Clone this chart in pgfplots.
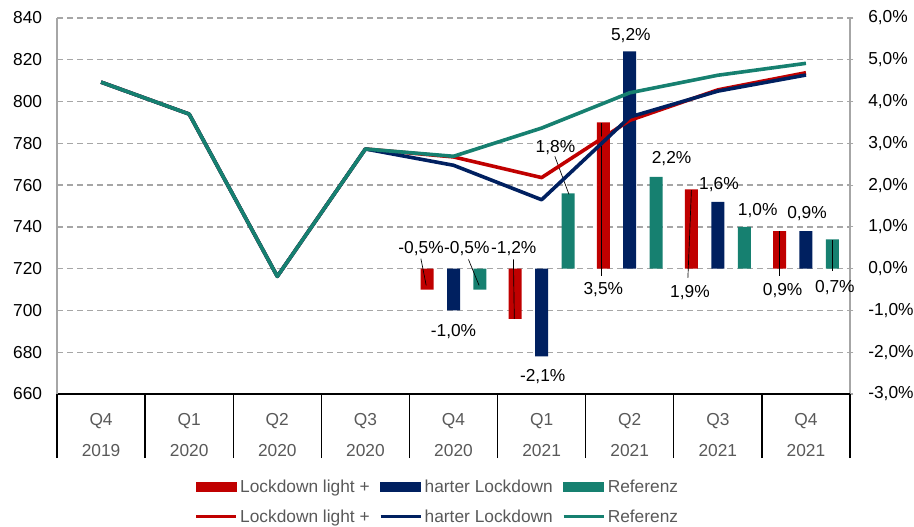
\documentclass[border=0pt]{standalone}
\usepackage{fontspec}
\setmainfont{Liberation Sans}
\usepackage{pgfplots}
\pgfplotsset{compat=1.18}
\definecolor{cred}{RGB}{192,0,0}
\definecolor{cblue}{RGB}{0,32,96}
\definecolor{cteal}{RGB}{22,128,112}
\definecolor{axgray}{RGB}{166,166,166}
\definecolor{txtgray}{RGB}{89,89,89}
\newcommand{\fs}{\fontsize{13}{15.6}\selectfont}
\pgfplotsset{
  barlbl/.style={
    point meta=y,
    nodes near coords={\pgfmathprintnumber[fixed,fixed zerofill,precision=1,use comma,assume math mode=true]{\pgfplotspointmeta}\%},
    visualization depends on={\thisrow{dx}\as\dx},
    visualization depends on={\thisrow{dy}\as\dy},
    every node near coord/.append style={anchor=center, font=\fs, text=black, inner sep=0pt, xshift=\dx pt, yshift=\dy pt},
  }
}
\begin{document}
\begin{tikzpicture}
% ---------------- bars (right axis) ----------------
\begin{axis}[
  width=594.75pt, height=282pt, scale only axis,
  xmin=-0.5, xmax=8.5, ymin=-3, ymax=6,
  axis x line=none, axis y line*=right,
  y axis line style={draw=axgray, line width=0.8pt, -},
  ytick={-3,-2,...,6},
  ymajorgrids, grid style={axgray, line width=1pt, dash pattern=on 4.5pt off 3pt},
  yticklabel={\pgfmathprintnumber[fixed,fixed zerofill,precision=1,use comma,assume math mode=true]{\tick}\%},
  yticklabel style={font=\fs, text=black, anchor=west, inner sep=0pt, xshift=11pt},
  ytick style={draw=axgray, line width=0.8pt},
  tick align=center, major tick length=5pt,
  clip=false,
  ybar, bar width=9.75pt,
]
\addplot[ybar, fill=cred, draw=none, bar shift=-19.8pt, barlbl] table {
x y dx dy
4 -0.5 -4.5 30.6
5 -1.2 -1.1 52.5
6 3.5 0 -125.3
7 1.9 -1.1 -77.3
8 0.9 2.3 -44.6
};
\addplot[ybar, fill=cblue, draw=none, bar shift=0pt, barlbl] table {
x y dx dy
4 -1.0 0 -16
5 -2.1 0.8 -15.3
6 5.2 0.8 12
7 1.6 0.8 12.8
8 0.9 0.8 13.1
};
\addplot[ybar, fill=cteal, draw=none, bar shift=19.8pt, barlbl] table {
x y dx dy
4 -0.5 -9.8 30.6
5 1.8 -9.4 34.5
6 2.2 11.6 13.5
7 1.0 10.1 12
8 0.7 1.9 -36
};
% leader lines
\draw[black, line width=0.5pt] (axis cs:3.63,0.24) -- (axis cs:3.69,-0.40);
\draw[black, line width=0.5pt] (axis cs:4.17,0.22) -- (axis cs:4.29,-0.40);
\draw[black, line width=0.5pt] (axis cs:4.68,0.22) -- (axis cs:4.69,-1.2);
\draw[black, line width=0.5pt] (axis cs:5.15,2.69) -- (axis cs:5.31,1.78);
\draw[black, line width=0.5pt] (axis cs:5.68,-0.17) -- (axis cs:5.68,3.48);
\draw[black, line width=0.5pt] (axis cs:6.66,-0.22) -- (axis cs:6.70,1.88);
\draw[black, line width=0.5pt] (axis cs:7.70,-0.17) -- (axis cs:7.70,0.90);
\draw[black, line width=0.5pt] (axis cs:8.30,-0.05) -- (axis cs:8.30,0.69);
\end{axis}
% ---------------- lines (left axis) ----------------
\begin{axis}[
  width=594.75pt, height=282pt, scale only axis,
  xmin=-0.5, xmax=8.5, ymin=660, ymax=840,
  axis x line*=bottom, axis y line*=left,
  x axis line style={black, line width=1pt, -},
  y axis line style={axgray, line width=0.8pt, -},
  /pgf/number format/assume math mode=true,
  ytick={660,680,...,840}, ytick style={draw=none},
  yticklabel style={font=\fs, text=black, inner sep=0pt, xshift=-11pt},
  xtick={0,...,8}, xticklabels={Q4,Q1,Q2,Q3,Q4,Q1,Q2,Q3,Q4},
  extra x ticks={0,...,8}, extra x tick labels={2019,2020,2020,2020,2020,2021,2021,2021,2021},
  extra x tick style={xticklabel style={yshift=-23.25pt}},
  major tick length=0pt,
  minor xtick={-0.5,0.5,...,8.5}, minor tick length=48pt, tick align=outside,
  minor x tick style={black, line width=1pt},
  xticklabel style={font=\fs, text=txtgray, anchor=north, inner sep=0pt, yshift=-14pt},
  clip=false,
  legend columns=3,
  legend cell align=left,
  legend style={at={(0.48,-0.287)}, anchor=center, draw=none, fill=none, font=\fs, text=txtgray,
    /tikz/every even column/.append style={column sep=5pt}, row sep=7.5pt, inner sep=0pt},
]
\addlegendimage{legend image code/.code={\fill[cred] (0pt,-3.4pt) rectangle (30pt,3.4pt);}}
\addlegendentry{Lockdown light +}
\addlegendimage{legend image code/.code={\fill[cblue] (0pt,-3.4pt) rectangle (30pt,3.4pt);}}
\addlegendentry{harter Lockdown}
\addlegendimage{legend image code/.code={\fill[cteal] (0pt,-3.4pt) rectangle (30pt,3.4pt);}}
\addlegendentry{Referenz}
\addplot[cred, line width=2.7pt, line join=round, mark=none,
  legend image code/.code={\draw[cred, line width=2.2pt] (0pt,0pt) -- (30pt,0pt);}] coordinates {
(0,809.3) (1,794) (2,716.3) (3,777.3) (4,773.5) (5,763.6) (6,791) (7,805.6) (8,813.8)
};
\addlegendentry{Lockdown light +}
\addplot[cblue, line width=2.7pt, line join=round, mark=none,
  legend image code/.code={\draw[cblue, line width=2.2pt] (0pt,0pt) -- (30pt,0pt);}] coordinates {
(0,809.3) (1,794) (2,716.3) (3,777.3) (4,769.5) (5,753) (6,792.6) (7,805) (8,812.7)
};
\addlegendentry{harter Lockdown}
\addplot[cteal, line width=2.7pt, line join=round, mark=none,
  legend image code/.code={\draw[cteal, line width=2.2pt] (0pt,0pt) -- (30pt,0pt);}] coordinates {
(0,809.3) (1,794) (2,716.3) (3,777.3) (4,773.8) (5,787.3) (6,804.2) (7,812.6) (8,818.3)
};
\addlegendentry{Referenz}
\coordinate (bbsw) at (rel axis cs:-0.0719,-0.3537);
\coordinate (bbne) at (rel axis cs:1.0807,1.0479);
\end{axis}
\pgfresetboundingbox
\path (bbsw) rectangle (bbne);
\end{tikzpicture}
\end{document}
